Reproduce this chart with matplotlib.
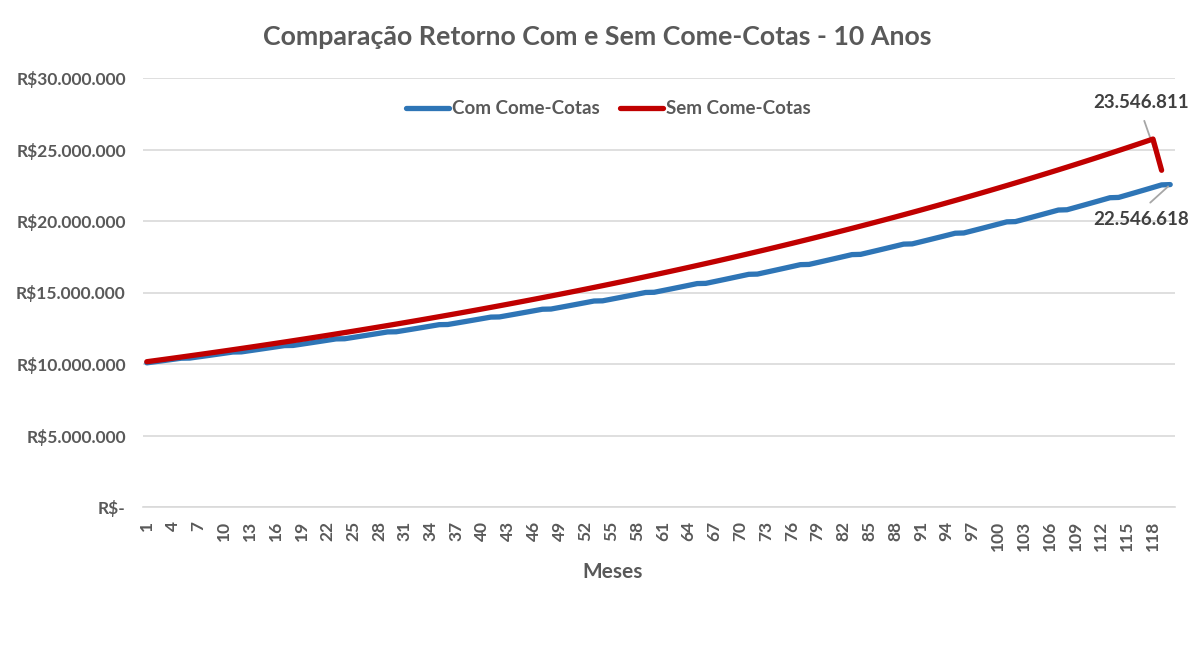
import matplotlib
matplotlib.use("Agg")
import matplotlib.pyplot as plt
from matplotlib.ticker import FuncFormatter, FixedLocator

plt.rcParams['font.family'] = ['Lato', 'DejaVu Sans']

title = "Comparação Retorno Com e Sem Come-Cotas - 10 Anos"
x_label = "Meses"
series_names = ["Com Come-Cotas", "Sem Come-Cotas"]

meses = list(range(1, 121))

com_come_cotas = [
    10079700, 10160100, 10241100, 10322800, 10405100, 10414900,
    10497900, 10581600, 10666000, 10751100, 10836800, 10847000,
    10933500, 11020600, 11108500, 11197100, 11286400, 11297000,
    11387100, 11477900, 11569400, 11661600, 11754600, 11765700,
    11859500, 11954000, 12049400, 12145500, 12242300, 12253800,
    12351500, 12450000, 12549300, 12649300, 12750200, 12762200,
    12863900, 12966500, 13069900, 13174100, 13279200, 13291600,
    13397600, 13504500, 13612200, 13720700, 13830100, 13843100,
    13953500, 14064700, 14176900, 14289900, 14403900, 14417400,
    14532300, 14648200, 14765000, 14882800, 15001500, 15015500,
    15135300, 15256000, 15377600, 15500200, 15623800, 15638500,
    15763200, 15888900, 16015600, 16143300, 16272000, 16287300,
    16417200, 16548100, 16680000, 16813000, 16947100, 16963000,
    17098300, 17234600, 17372000, 17510600, 17650200, 17666800,
    17807600, 17949600, 18092800, 18237000, 18382500, 18399700,
    18546400, 18694300, 18843400, 18993600, 19145100, 19163100,
    19315900, 19469900, 19625200, 19781600, 19939400, 19958100,
    20117200, 20277700, 20439400, 20602300, 20766600, 20786100,
    20951800, 21118900, 21287300, 21457100, 21628200, 21648500,
    21821100, 21995100, 22170500, 22347300, 22525500, 22546618,
]

sem_come_cotas = [
    10160100, 10241100, 10322800, 10405100, 10488100, 10571700, 10656000,
    10741000, 10826600, 10913000, 11000000,
    11087700, 11176100, 11265300, 11355100, 11445600, 11536900,
    11628900, 11721600, 11815100, 11909300, 12004300, 12100000,
    12196500, 12293700, 12391800, 12490600, 12590200, 12690600,
    12791800, 12893800, 12996600, 13100200, 13204700, 13310000,
    13416100, 13523100, 13631000, 13739600, 13849200, 13959700,
    14071000, 14183200, 14296300, 14410300, 14525200, 14641000,
    14757700, 14875400, 14994100, 15113600, 15234100, 15355600,
    15478000, 15601500, 15725900, 15851300, 15977700, 16105100,
    16233500, 16363000, 16493500, 16625000, 16757500, 16891200,
    17025900, 17161600, 17298500, 17436400, 17575500, 17715600,
    17856900, 17999300, 18142800, 18287500, 18433300, 18580300,
    18728500, 18877800, 19028300, 19180100, 19333000, 19487200,
    19642600, 19799200, 19957100, 20116200, 20276600, 20438300,
    20601300, 20765600, 20931200, 21098100, 21266300, 21435900,
    21606800, 21779100, 21952800, 22127800, 22304300, 22482100,
    22661400, 22842100, 23024300, 23207900, 23392900, 23579500,
    23767500, 23957000, 24148100, 24340600, 24534700, 24730400,
    24927600, 25126300, 25326700, 25528700, 25732200, 23546811,
]

y_ticks = [0, 5000000, 10000000, 15000000, 20000000, 25000000, 30000000]
x_tick_labels = list(range(1, 121, 3))

BLUE = "#2E75B6"
RED = "#C00000"
GRAY = "#595959"
DARK = "#404040"
GRID = "#D9D9D9"

W, H = 1196, 656
fig = plt.figure(figsize=(W / 100, H / 100), dpi=100)
ax = fig.add_axes([142.5 / W, 1 - 507 / H, 1032 / W, (507 - 78) / H])

x_blue = meses[:len(com_come_cotas)]
x_red = meses[:len(sem_come_cotas)]
l1, = ax.plot(x_blue, com_come_cotas, color=BLUE, lw=3.8, solid_capstyle='round',
              solid_joinstyle='round', label=series_names[0], zorder=3)
l2, = ax.plot(x_red, sem_come_cotas, color=RED, lw=3.8, solid_capstyle='round',
              solid_joinstyle='round', label=series_names[1], zorder=4)

ax.set_xlim(0.5, 120.5)
ax.set_ylim(0, 30000000)
ax.yaxis.set_major_locator(FixedLocator(y_ticks))
ax.xaxis.set_major_locator(FixedLocator(x_tick_labels))


def fmt(v, pos):
    if v == 0:
        return "R$-"
    return "R$" + f"{v:,.0f}".replace(",", ".")


ax.yaxis.set_major_formatter(FuncFormatter(fmt))
ax.set_xticklabels([str(v) for v in x_tick_labels], rotation=90, fontsize=12.5,
                   fontweight='bold', color=GRAY, va='top', ha='center')
for lab in ax.get_yticklabels():
    lab.set_fontsize(12.5)
    lab.set_fontweight('bold')
    lab.set_color(GRAY)
ax.tick_params(axis='both', length=0)
ax.tick_params(axis='y', pad=12)
ax.tick_params(axis='x', pad=10)

ax.grid(axis='y', color=GRID, lw=1.2)
ax.set_axisbelow(True)
for s in ['top', 'right', 'left']:
    ax.spines[s].set_visible(False)
ax.spines['bottom'].set_color(GRID)
ax.spines['bottom'].set_linewidth(1.2)
ax.spines['bottom'].set_zorder(1)

fig.text(597 / W, 1 - 37 / H, title, ha='center', va='center', fontsize=19.3,
         fontweight='bold', color=GRAY)
fig.text(613 / W, 1 - 572 / H, x_label, ha='center', va='center', fontsize=15,
         fontweight='bold', color=GRAY)

leg = fig.legend(handles=[l1, l2], loc='center', bbox_to_anchor=(608.5 / W, 1 - 109 / H),
                 ncol=2, frameon=False, handlelength=2.3, handletextpad=0.15,
                 columnspacing=1.1, prop={'weight': 'bold', 'size': 13.5})
for t in leg.get_texts():
    t.set_color(GRAY)

ax.annotate(f"{sem_come_cotas[-1]:,.0f}".replace(",", "."),
            xy=(x_red[-1], sem_come_cotas[-1]), xycoords='data',
            xytext=(1141, H - 103), textcoords='figure pixels',
            ha='center', va='center', fontsize=13.5, fontweight='bold', color=DARK,
            arrowprops=dict(arrowstyle='-', color='#A6A6A6', lw=1.3,
                            relpos=(0.5, 0.0), shrinkA=5, shrinkB=2))
ax.annotate(f"{com_come_cotas[-1]:,.0f}".replace(",", "."),
            xy=(x_blue[-1], com_come_cotas[-1]), xycoords='data',
            xytext=(1141, H - 219.5), textcoords='figure pixels',
            ha='center', va='center', fontsize=13.5, fontweight='bold', color=DARK,
            arrowprops=dict(arrowstyle='-', color='#A6A6A6', lw=1.3,
                            relpos=(0.5, 1.0), shrinkA=6, shrinkB=2))

fig.savefig("out.png", dpi=100)
